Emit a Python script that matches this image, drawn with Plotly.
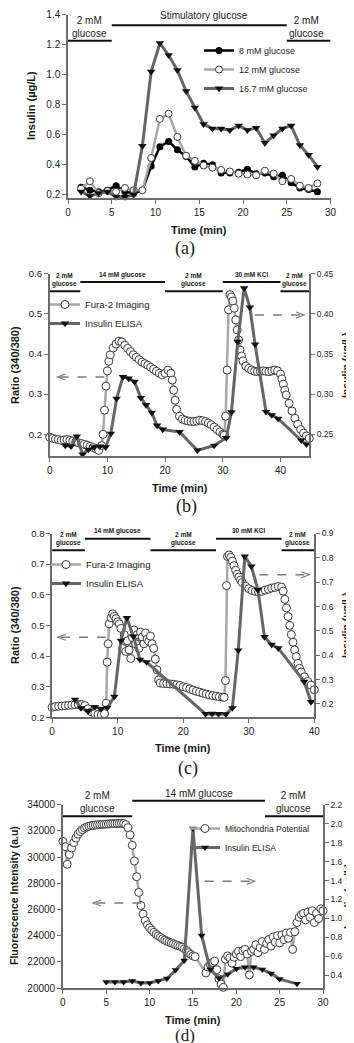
import plotly.graph_objects as go

W, H = 354, 1043
SANS = "Liberation Sans, Arial, sans-serif"
SERIF = "Liberation Serif, Times New Roman, serif"
AXIS = "#6b6b6b"
TEXT = "#1a1a1a"
DARK_LINE = "#666666"
LIGHT_LINE = "#a8a8a8"

# ---------------- panel (a): insulin secretion at three glucose levels
a_time = [1.5, 2.5, 3.5, 4.5, 5.5, 6.5, 7.5, 8.5, 9.5, 10.5, 11.5, 12.5, 13.5, 14.5,
          15.5, 16.5, 17.5, 18.5, 19.5, 20.5, 21.5, 22.5, 23.5, 24.5, 25.5, 26.5, 27.5, 28.5]
a_8mm = [0.25, 0.23, 0.22, 0.23, 0.26, 0.22, 0.21, 0.23, 0.39, 0.52, 0.555, 0.50, 0.455, 0.385,
         0.41, 0.40, 0.345, 0.345, 0.35, 0.37, 0.34, 0.345, 0.32, 0.33, 0.28, 0.245, 0.235, 0.22]
a_12mm = [0.24, 0.29, 0.21, 0.225, 0.22, 0.245, 0.23, 0.23, 0.445, 0.705, 0.74, 0.585, 0.46, 0.425,
          0.395, 0.38, 0.365, 0.355, 0.34, 0.335, 0.33, 0.36, 0.34, 0.29, 0.305, 0.26, 0.245, 0.275]
a_16mm = [0.22, 0.19, 0.21, 0.22, 0.185, 0.185, 0.20, 0.525, 1.02, 1.21, 1.13, 1.03, 0.89, 0.78,
          0.67, 0.64, 0.64, 0.63, 0.66, 0.63, 0.645, 0.545, 0.595, 0.64, 0.66, 0.53, 0.465, 0.385]
a_names = ["8 mM glucose", "12 mM glucose", "16.7 mM glucose"]
a_xticks = [0, 5, 10, 15, 20, 25, 30]
a_yticks = [0.2, 0.4, 0.6, 0.8, 1.0, 1.2, 1.4]
a_per_start = [0, 5, 25]
a_per_end = [5, 25, 30]
a_per_label = ["2 mM<br>glucose", "Stimulatory glucose", "2 mM<br>glucose"]

# ---------------- panel (b): Fura-2 ratio and insulin, 14 mM glucose / KCl
b_fura_time = [0, 0.5, 1, 1.5, 2, 2.5, 3, 3.5, 4, 4.5, 5, 5.5, 6, 6.5, 7, 7.5, 8, 8.5, 9,
               9.25, 9.5, 9.75, 10, 10.25, 10.5,
               11, 11.5, 12, 12.5, 13, 13.5, 14, 14.5, 15, 15.5, 16, 16.5, 17, 17.5, 18, 18.5,
               19, 19.5, 20, 20.5, 21,
               21.25, 21.5, 21.75, 22,
               22.5, 23, 23.5, 24, 24.5, 25, 25.5, 26, 26.5, 27, 27.5, 28, 28.5, 29, 29.5, 30,
               30.25, 30.5, 30.75, 31, 31.25, 31.5, 31.75, 32, 32.25, 32.5, 32.75, 33, 33.25, 33.5,
               34, 34.5, 35, 35.5, 36, 36.5, 37, 37.5, 38, 38.5, 39, 39.5, 40,
               40.25, 40.5, 40.75, 41,
               41.5, 42, 42.5, 43, 43.5, 44, 44.5, 45]
b_fura = [0.193, 0.190, 0.188, 0.187, 0.185, 0.186, 0.187, 0.185, 0.183, 0.181, 0.179, 0.177,
          0.175, 0.173, 0.170, 0.167, 0.164, 0.160, 0.172,
          0.200, 0.260, 0.320, 0.358, 0.382, 0.398,
          0.415, 0.425, 0.432, 0.430, 0.422, 0.414, 0.406, 0.398, 0.392, 0.386, 0.380, 0.376,
          0.372, 0.367, 0.362, 0.357, 0.352, 0.348, 0.352, 0.360, 0.352,
          0.335, 0.310, 0.285, 0.262,
          0.245, 0.238, 0.235, 0.233, 0.232, 0.232, 0.233, 0.235, 0.234, 0.232, 0.228, 0.224,
          0.218, 0.212, 0.206, 0.200,
          0.198, 0.245, 0.360, 0.510, 0.548, 0.542, 0.532, 0.514, 0.485, 0.460, 0.435, 0.410,
          0.395, 0.383,
          0.370, 0.364, 0.360, 0.357, 0.356, 0.357, 0.358, 0.357, 0.356, 0.358, 0.360, 0.358, 0.350,
          0.338, 0.325, 0.310, 0.298,
          0.277, 0.258, 0.240, 0.225, 0.212, 0.203, 0.196, 0.190]
b_ins_time = [2.7, 3.7, 4.7, 5.7, 6.7, 7.7, 8.7, 9.7, 10.6, 11.6, 12.7, 13.7, 14.7, 15.8, 16.7,
              17.7, 18.6, 19.6, 22.5, 25.6, 28.5, 30.6, 31.5, 32.6, 33.7, 34.7, 35.6, 37.5, 38.5,
              39.6, 43.6, 44.5]
b_ins = [0.236, 0.235, 0.2475, 0.225, 0.231, 0.234, 0.235, 0.234, 0.251, 0.2945, 0.3215, 0.3195,
         0.3155, 0.2955, 0.2865, 0.277, 0.261, 0.256, 0.253, 0.230, 0.236, 0.2455, 0.2775, 0.3655,
         0.432, 0.408, 0.362, 0.278, 0.274, 0.2695, 0.2425, 0.2375]
b_xticks = [0, 10, 20, 30, 40]
b_yticks = [0.2, 0.3, 0.4, 0.5, 0.6]
b_y2ticks = [0.25, 0.30, 0.35, 0.40, 0.45]
b_per_start = [0, 5.3, 20, 30, 40]
b_per_end = [5.3, 20, 30, 40, 45]
b_per_label = ["2 mM<br>glucose", "14 mM glucose", "2 mM<br>glucose", "30 mM KCl", "2 mM<br>glucose"]

# ---------------- panel (c)
c_fura_time = [0, 0.5, 1, 1.5, 2, 2.5, 3, 3.5, 4, 4.5, 5, 5.5, 6, 6.5, 7, 7.5, 8,
               8.25, 8.4, 8.55, 8.7, 9, 9.25, 9.5, 9.75, 10, 10.25, 10.5, 10.75, 11, 11.25, 11.5,
               11.75, 12, 12.25, 12.5, 12.75, 13, 13.25, 13.5, 13.75, 14, 14.25, 14.5, 14.75, 15,
               15.25, 15.5, 15.75, 16, 16.25, 16.5,
               17, 17.5, 18, 18.5, 19, 19.5, 20, 20.5, 21, 21.5, 22, 22.5, 23, 23.5, 24, 24.5, 25,
               25.5, 26,
               26.25, 26.45, 26.6, 26.75, 27, 27.25, 27.5, 27.75, 28, 28.25, 28.5, 28.75, 29,
               29.5, 30, 30.5, 31, 31.5, 32, 32.5, 33, 33.5, 34, 34.5, 35,
               35.25, 35.5, 35.75, 36, 36.25, 36.5, 36.75, 37, 37.25, 37.5, 37.75, 38,
               38.5, 39, 39.5, 40]
c_fura = [0.233, 0.235, 0.236, 0.237, 0.238, 0.239, 0.240, 0.241, 0.242, 0.242, 0.238, 0.228,
          0.218, 0.212, 0.209, 0.208, 0.212,
          0.246, 0.380, 0.440, 0.505, 0.525, 0.538, 0.530, 0.522, 0.512, 0.505, 0.490, 0.425,
          0.470, 0.415, 0.450, 0.420, 0.392, 0.460, 0.485, 0.440, 0.470, 0.425, 0.478, 0.462,
          0.440, 0.475, 0.455, 0.448, 0.465, 0.440, 0.425, 0.390, 0.355, 0.322, 0.312,
          0.310, 0.310, 0.309, 0.308, 0.306, 0.304, 0.300, 0.297, 0.293, 0.289, 0.285, 0.282,
          0.279, 0.276, 0.273, 0.271, 0.269, 0.267, 0.266,
          0.265, 0.320, 0.630, 0.725, 0.730, 0.722, 0.710, 0.695, 0.680, 0.667, 0.658, 0.648, 0.640,
          0.628, 0.620, 0.614, 0.611, 0.609, 0.611, 0.615, 0.618, 0.622, 0.624, 0.627, 0.625,
          0.612, 0.585, 0.557, 0.529, 0.500, 0.470, 0.445, 0.420, 0.398, 0.376, 0.360, 0.348,
          0.332, 0.317, 0.305, 0.290]
c_ins_time = [3.5, 4.4, 5.5, 6.5, 7.45, 8.45, 9.5, 10.5, 11.4, 12.4, 13.4, 14.4, 23.4, 24.4,
              25.4, 26.5, 27.5, 28.4, 29.4, 30.4, 31.4, 32.4, 33.5, 34.5, 38.45, 39.5]
c_ins = [0.218, 0.183, 0.17, 0.188, 0.18, 0.185, 0.23, 0.46, 0.553, 0.477, 0.382, 0.372, 0.159,
         0.16, 0.159, 0.158, 0.183, 0.42, 0.806, 0.765, 0.668, 0.475, 0.443, 0.429, 0.292, 0.208]
c_xticks = [0, 10, 20, 30, 40]
c_yticks = [0.2, 0.3, 0.4, 0.5, 0.6, 0.7, 0.8]
c_y2ticks = [0.2, 0.3, 0.4, 0.5, 0.6, 0.7, 0.8, 0.9]
c_per_start = [0, 5, 15, 25, 35]
c_per_end = [5, 15, 25, 35, 40]
c_per_label = ["2 mM<br>glucose", "14 mM glucose", "2 mM<br>glucose", "30 mM KCl", "2 mM<br>glucose"]

# ---------------- panel (d): mitochondrial potential and insulin
d_mito_time = [0, 0.25, 0.5, 0.75, 1, 1.25, 1.5, 1.75, 2, 2.25, 2.5, 2.75, 3, 3.25, 3.5, 3.75,
               4, 4.25, 4.5, 4.75, 5, 5.25, 5.5, 5.75, 6, 6.25, 6.5, 6.75, 7, 7.25, 7.5, 7.75,
               8, 8.25, 8.5, 8.75, 9, 9.25, 9.5, 9.75, 10, 10.25, 10.5, 10.75, 11, 11.25, 11.5,
               11.75, 12, 12.25, 12.5, 12.75, 13, 13.25, 13.5, 13.75, 14, 14.25, 14.5, 14.75, 15,
               15.25,
               16.5, 16.75, 17, 17.25, 17.5, 17.75, 18, 18.25, 18.5, 18.75, 19, 19.25, 19.5, 19.75,
               20, 20.25, 20.5, 20.75, 21, 21.25, 21.5, 21.75, 22, 22.25, 22.5, 22.75, 23, 23.25,
               23.5, 23.75, 24, 24.25, 24.5, 24.75, 25, 25.25, 25.5, 25.75, 26, 26.25, 26.5, 26.75,
               27, 27.25, 27.5, 27.75, 28, 28.25, 28.5, 28.75, 29, 29.25, 29.5, 29.75, 30]
d_mito = [31200, 30800, 29450, 30200, 30700, 31100, 31450, 31750, 31950, 32100, 32220, 32300,
          32350, 32400, 32420, 32450, 32470, 32480, 32500, 32510, 32520, 32530, 32540, 32550,
          32550, 32560, 32570, 32580, 32560, 32480, 32250, 31700, 30900, 29700, 28500, 27300,
          26300, 25650, 25150, 24820, 24600, 24420, 24250, 24100, 23980, 23870, 23760, 23660,
          23570, 23500, 23440, 23380, 23310, 23250, 23180, 23120, 23000, 22860, 22700, 22560,
          22450, 22400,
          21150, 21600, 21800, 21950, 22050, 21400, 20700, 20300, 20050, 22200, 22450, 22300,
          21900, 22350, 22600, 22800, 22400, 22850, 22950, 22600, 21000, 22800, 22950, 23300,
          22700, 23100, 23550, 22950, 23400, 23700, 23200, 23900, 23500, 24000, 23450, 24050,
          23700, 24200, 23800, 24250, 22950, 24300, 25000, 25400, 25600, 25700, 25200, 25800,
          25400, 25900, 25000, 25700, 25300, 26050, 25900]
d_ins_time = [5, 6, 7, 8, 9, 10, 11, 12, 13, 14, 15, 16, 17, 18, 19, 20, 21, 22, 23, 24, 25, 27]
d_ins = [0.33, 0.33, 0.33, 0.34, 0.32, 0.32, 0.34, 0.365, 0.455, 0.555, 1.95, 0.82, 0.46, 0.37,
         0.41, 0.47, 0.486, 0.486, 0.46, 0.42, 0.36, 0.31]
d_xticks = [0, 5, 10, 15, 20, 25, 30]
d_yticks = [20000, 22000, 24000, 26000, 28000, 30000, 32000, 34000]
d_y2ticks = [0.4, 0.6, 0.8, 1.0, 1.2, 1.4, 1.6, 1.8, 2.0, 2.2]
d_per_start = [0, 8, 23.3]
d_per_end = [8, 23.3, 30]
d_per_label = ["2 mM<br>glucose", "14 mM glucose", "2 mM<br>glucose"]


def fx(p):
    return p / W


def fy(p):
    return 1 - p / H


def axis(rng, tickvals, fmt, domain=None, size=10, **kw):
    d = dict(range=rng, tickvals=tickvals, tickformat=fmt, showline=True, linecolor=AXIS,
             linewidth=1.5, ticks="outside", ticklen=4, tickwidth=1.2, tickcolor=AXIS,
             showgrid=False, zeroline=False, automargin=False, fixedrange=True,
             tickfont=dict(family=SANS, size=size, color=TEXT))
    if domain is not None:
        d["domain"] = domain
    d.update(kw)
    return d


def open_circles(x, y, name, xa, ya, legend, size=7.5):
    return go.Scatter(x=x, y=y, name=name, mode="lines+markers", xaxis=xa, yaxis=ya,
                      legend=legend, cliponaxis=False,
                      line=dict(color=LIGHT_LINE, width=2.5),
                      marker=dict(symbol="circle", size=size, color="white",
                                  line=dict(color="#3a3a3a", width=1)))


def triangles(x, y, name, xa, ya, legend, size=7.5):
    return go.Scatter(x=x, y=y, name=name, mode="lines+markers", xaxis=xa, yaxis=ya,
                      legend=legend, cliponaxis=False,
                      line=dict(color=DARK_LINE, width=3),
                      marker=dict(symbol="triangle-down", size=size, color="#111111"))


fig = go.Figure()

# panel (a)
fig.add_trace(go.Scatter(x=a_time, y=a_8mm, name=a_names[0], mode="lines+markers",
                         xaxis="x", yaxis="y", legend="legend", cliponaxis=False,
                         line=dict(color="#000000", width=2.5),
                         marker=dict(symbol="circle", size=7, color="#000000")))
fig.add_trace(open_circles(a_time, a_12mm, a_names[1], "x", "y", "legend", size=7))
fig.add_trace(triangles(a_time, a_16mm, a_names[2], "x", "y", "legend", size=7.5))

# panel (b)
fig.add_trace(open_circles(b_fura_time, b_fura, "Fura-2 Imaging", "x2", "y2", "legend2", size=8))
fig.add_trace(triangles(b_ins_time, b_ins, "Insulin ELISA", "x2", "y3", "legend2"))

# panel (c)
fig.add_trace(open_circles(c_fura_time, c_fura, "Fura-2 Imaging", "x3", "y4", "legend3", size=8))
fig.add_trace(triangles(c_ins_time, c_ins, "Insulin ELISA", "x3", "y5", "legend3"))

# panel (d)
fig.add_trace(open_circles(d_mito_time, d_mito, "Mitochondria Potential", "x4", "y6", "legend4", size=8))
fig.add_trace(triangles(d_ins_time, d_ins, "Insulin ELISA", "x4", "y7", "legend4", size=7))

shapes = []
annotations = []


def treatment(starts, ends, labels, xref, ydom, levels, label_py, font, shift=None):
    for i, (s, e, lab) in enumerate(zip(starts, ends, labels)):
        k = i % 2
        shapes.append(dict(type="line", xref=xref, yref=ydom + " domain", x0=s, x1=e,
                           y0=levels[k], y1=levels[k], line=dict(color="#111111", width=2)))
        annotations.append(dict(text=lab, xref=xref, yref="paper", x=(s + e) / 2,
                                xshift=(shift[i] if shift else 0),
                                y=fy(label_py[k]), showarrow=False, xanchor="center",
                                yanchor="middle", font=font))


f_reg = dict(family=SANS, size=10, color=TEXT)
f_small = dict(family=SANS, size=6.5, color=TEXT, weight="bold")
treatment(a_per_start, a_per_end, a_per_label, "x", "y", [0.858, 0.942], [19, 7.5], f_reg,
          shift=[0, 5, -2])
treatment(b_per_start, b_per_end, b_per_label, "x2", "y2", [0.9035, 0.9545], [272.5, 266.5], f_small)
treatment(c_per_start, c_per_end, c_per_label, "x3", "y4", [0.9086, 0.9717], [531, 522.5], f_small)
treatment(d_per_start, d_per_end, d_per_label, "x4", "y6", [0.9367, 1.0218], [794, 785], f_reg)


def dashed_arrow(x_tail, x_tip, y):
    shapes.append(dict(type="line", xref="paper", yref="paper", x0=fx(x_tail), x1=fx(x_tip),
                       y0=fy(y), y1=fy(y), line=dict(color="#7a7a7a", width=1.5, dash="dash")))
    back = 8 if x_tip < x_tail else -8
    path = "M {},{} L {},{} L {},{}".format(fx(x_tip + back), fy(y - 3), fx(x_tip), fy(y),
                                           fx(x_tip + back), fy(y + 3))
    shapes.append(dict(type="path", xref="paper", yref="paper", path=path,
                       line=dict(color="#7a7a7a", width=1.2)))


dashed_arrow(96.5, 49.5, 369)
dashed_arrow(247, 296, 307)
dashed_arrow(98, 49.7, 629.3)
dashed_arrow(251.3, 301.3, 566.7)
dashed_arrow(133.3, 85, 895)
dashed_arrow(196.7, 246.7, 873.3)


def label(text, x, y, size=11, angle=0, family=SANS, bold=True):
    annotations.append(dict(text=text, xref="paper", yref="paper", x=fx(x), y=fy(y),
                            showarrow=False, xanchor="center", yanchor="middle",
                            textangle=angle,
                            font=dict(family=family, size=size, color=TEXT,
                                      weight="bold" if bold else "normal")))


label("Insulin (µg/L)", 23, 98, angle=-90)
label("Time (min)", 191, 221.5)
label("(a)", 177, 240, size=18, family=SERIF, bold=False)

label("Ratio (340/380)", 7, 357, angle=-90)
label("Insulin (µg/L)", 338, 357, size=10.5, angle=-90)
label("Time (min)", 172, 480)
label("(b)", 178, 498, size=18, family=SERIF, bold=False)

label("Ratio (340/380)", 7, 617, angle=-90)
label("Insulin (µg/L)", 338, 617, size=10.5, angle=-90)
label("Time (min)", 175, 740)
label("(c)", 180, 760, size=18, family=SERIF, bold=False)

label("Fluorescence Intensity (a.u)", 6, 888, size=10.5, angle=-90)
label("Insulin (µg/L)", 340, 888, size=10.5, angle=-90)
label("Time (min)", 185, 1011.5)
label("(d)", 177, 1027, size=17, family=SERIF, bold=False)


def legend_box(x, y, size):
    return dict(x=fx(x), y=fy(y), xanchor="left", yanchor="top", bgcolor="rgba(0,0,0,0)",
                borderwidth=0, tracegroupgap=0, itemwidth=30,
                font=dict(family=SANS, size=size, color=TEXT))


fig.update_layout(
    width=W, height=H, template="none", showlegend=True,
    paper_bgcolor="white", plot_bgcolor="white",
    margin=dict(l=0, r=0, t=0, b=0),
    font=dict(family=SANS, color=TEXT),
    xaxis=axis([0, 30], a_xticks, "d", [fx(60), fx(322.5)], anchor="y"),
    yaxis=axis([0.178, 1.4], a_yticks, ".1f", [fy(190), fy(6.7)], anchor="x"),
    xaxis2=axis([0, 45], b_xticks, "d", [fx(41.7), fx(301.3)], anchor="y2"),
    yaxis2=axis([0.146, 0.6], b_yticks, ".1f", [fy(448), fy(265.7)], size=9.5, anchor="x2"),
    yaxis3=axis([0.223, 0.45], b_y2ticks, ".2f", size=8.5, anchor="x2", overlaying="y2",
                side="right"),
    xaxis3=axis([0, 40], c_xticks, "d", [fx(44.1), fx(306.3)], anchor="y4"),
    yaxis4=axis([0.2, 0.8], c_yticks, ".1f", [fy(709.3), fy(525.5)], size=9.5, anchor="x3"),
    yaxis5=axis([0.145, 0.9], c_y2ticks, ".1f", size=8.5, anchor="x3", overlaying="y4",
                side="right"),
    xaxis4=axis([0, 30], d_xticks, "d", [fx(54.9), fx(315)], anchor="y6"),
    yaxis6=axis([20000, 34000], d_yticks, "d", [fy(980), fy(796.7)], anchor="x4"),
    yaxis7=axis([0.266, 2.2], d_y2ticks, ".1f", size=8.5, anchor="x4", overlaying="y6",
                side="right"),
    legend=legend_box(191, 28, 9),
    legend2=legend_box(37, 282, 9.5),
    legend3=legend_box(38, 542, 9.5),
    legend4=legend_box(177, 806, 8.5),
    shapes=shapes,
    annotations=annotations,
)

fig.write_html("out.html")
